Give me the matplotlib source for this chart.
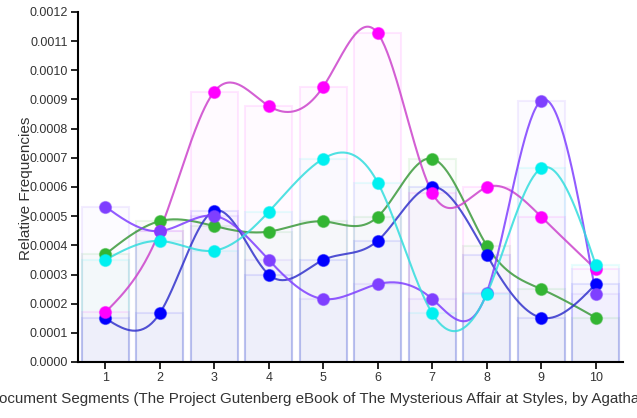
import numpy as np
import matplotlib
matplotlib.use("Agg")
import matplotlib.pyplot as plt
from matplotlib.colors import to_rgba

plt.rcParams['font.family'] = ['Liberation Sans', 'DejaVu Sans']

segments = [1, 2, 3, 4, 5, 6, 7, 8, 9, 10]
tick_labels = ["1", "2", "3", "4", "5", "6", "7", "8", "9", "10"]

green = [0.000369, 0.000483, 0.000466, 0.000447, 0.000482, 0.000498, 0.000697, 0.000399, 0.000250, 0.000152]
blue = [0.000150, 0.000167, 0.000518, 0.000300, 0.000350, 0.000416, 0.000601, 0.000367, 0.000152, 0.000267]
magenta = [0.000170, 0.000450, 0.000927, 0.000878, 0.000944, 0.001127, 0.000580, 0.000599, 0.000498, 0.000318]
purple = [0.000533, 0.000449, 0.000501, 0.000350, 0.000216, 0.000267, 0.000216, 0.000238, 0.000896, 0.000233]
cyan = [0.000350, 0.000415, 0.000382, 0.000515, 0.000697, 0.000615, 0.000167, 0.000233, 0.000664, 0.000333]

series = [
    (green, "#33b533"),
    (blue, "#0000ff"),
    (magenta, "#ff00ff"),
    (purple, "#7f3fff"),
    (cyan, "#00f0f0"),
]
line_colors = {"#33b533": "#3c9a3c", "#0000ff": "#3333cc", "#ff00ff": "#cc44cc",
               "#7f3fff": "#7f3fff", "#00f0f0": "#33dddd"}


def natural_spline(x, y, n=40):
    x = np.asarray(x, float)
    y = np.asarray(y, float)
    m = len(x)
    h = np.diff(x)
    A = np.zeros((m, m))
    r = np.zeros(m)
    A[0, 0] = 1
    A[-1, -1] = 1
    for i in range(1, m - 1):
        A[i, i - 1] = h[i - 1]
        A[i, i] = 2 * (h[i - 1] + h[i])
        A[i, i + 1] = h[i]
        r[i] = 6 * ((y[i + 1] - y[i]) / h[i] - (y[i] - y[i - 1]) / h[i - 1])
    M = np.linalg.solve(A, r)
    xs, ys = [], []
    for i in range(m - 1):
        t = np.linspace(x[i], x[i + 1], n, endpoint=(i == m - 2))
        a = x[i + 1] - t
        b = t - x[i]
        yy = (M[i] * a ** 3 + M[i + 1] * b ** 3) / (6 * h[i]) + \
             (y[i] / h[i] - M[i] * h[i] / 6) * a + (y[i + 1] / h[i] - M[i + 1] * h[i] / 6) * b
        xs.append(t)
        ys.append(yy)
    return np.concatenate(xs), np.concatenate(ys)


fig = plt.figure(figsize=(6.37, 4.18), dpi=100)
ax = fig.add_axes([78 / 637, 1 - 362 / 418, (623 - 78) / 637, 350 / 418])

# bars
for vals, col in series:
    ax.bar(segments, vals, width=0.86, color=to_rgba(col, 0.018),
           edgecolor=to_rgba(col, 0.09), linewidth=1.5, zorder=1)

# lines and dots
for k, (vals, col) in enumerate(series):
    xs, ys = natural_spline(segments, vals)
    ax.plot(xs, ys, color=line_colors[col], lw=1.5, alpha=0.85, zorder=3 + k * 0.1)
for k, (vals, col) in enumerate(series):
    ax.plot(segments, vals, 'o', ms=8.5, color=col, markeredgecolor=to_rgba(col, 0.5),
            markeredgewidth=1, zorder=4 + k * 0.1)

ax.set_xlim(0.5, 10.5)
ax.set_ylim(0, 0.0012)
ax.set_xticks(segments)
ax.set_xticklabels(tick_labels)
yt = np.arange(0, 0.00121, 0.0001)
ax.set_yticks(yt)
ax.set_yticklabels([f"{v:.4f}" for v in yt])
ax.tick_params(axis='both', labelsize=9, colors='#000000', labelcolor='#333333',
               length=5, width=1.2, pad=2.5)

for s in ['top', 'right']:
    ax.spines[s].set_visible(False)
for s in ['left', 'bottom']:
    ax.spines[s].set_linewidth(1.5)

fig.text(344 / 637, 1 - 403 / 418,
         "Document Segments (The Project Gutenberg eBook of The Mysterious Affair at Styles, by Agatha Christie)",
         fontsize=10.86, color='#333333', ha='center', va='baseline')
fig.text(26 / 637, 1 - 188 / 418, "Relative Frequencies", rotation=90, fontsize=11,
         color='#333333', ha='center', va='center')

fig.savefig("out.png", dpi=100)
